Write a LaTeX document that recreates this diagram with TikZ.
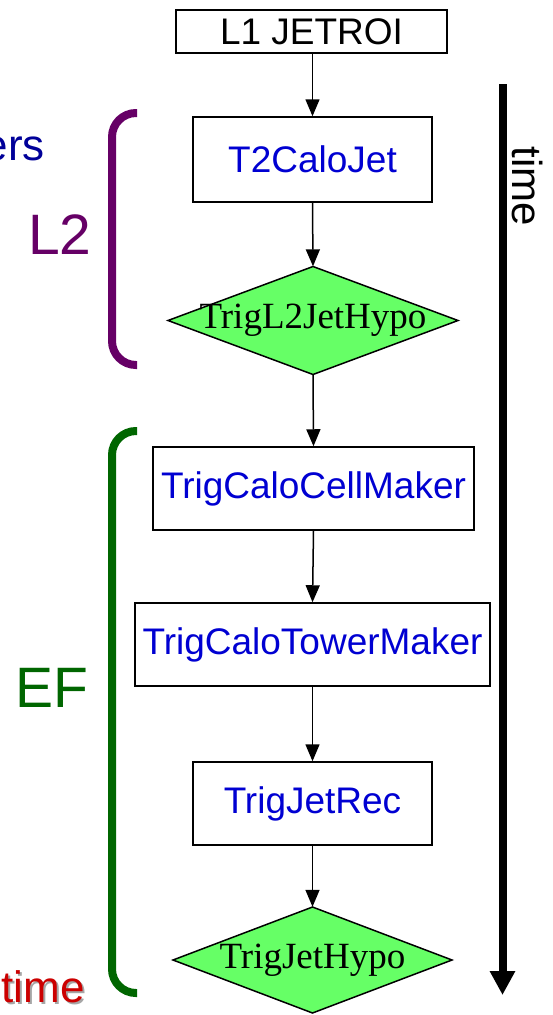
\documentclass[tikz,border=0pt]{standalone}
\usepackage{fontspec}
\setmainfont{Liberation Sans}
\newfontfamily\timesf{Liberation Serif}
\usetikzlibrary{arrows.meta}
\definecolor{algblue}{RGB}{0,0,210}
\definecolor{hypogreen}{RGB}{102,255,102}
\definecolor{ltwo}{RGB}{102,0,102}
\definecolor{efgreen}{RGB}{0,102,0}
\definecolor{darkblue}{RGB}{0,0,153}
\definecolor{redtime}{RGB}{204,0,0}
\tikzset{
  algbox/.style={draw=black, line width=1.5pt, fill=white, inner sep=0pt, font=\fontsize{37}{40}\selectfont, text=algblue},
  hypo/.style={inner sep=0pt, font=\timesf\fontsize{37}{40}\selectfont, text=black},
  flow/.style={line width=1.5pt, -{Triangle[width=14pt,length=17pt]}},
  bracepath/.style={line width=8pt, rounded corners=24pt},
  biglabel/.style={inner sep=0pt, font=\fontsize{57}{60}\selectfont}
}
\begin{document}
\begin{tikzpicture}[x=1pt,y=-1pt]
\useasboundingbox (0,0) rectangle (552,1015);
% nodes
\node[algbox, text=black, minimum width=271pt, minimum height=43pt] (l1) at (311.5,31.5) {L1 JETROI};
\node[algbox, minimum width=239pt, minimum height=85pt] (t2) at (312.5,159.5) {T2CaloJet};
\filldraw[fill=hypogreen, draw=black, line width=1.5pt] (168,320.5) -- (313,266.5) -- (458,320.5) -- (313,374.5) -- cycle;
\node[hypo, minimum width=290pt, minimum height=108pt] (h1) at (313,320.5) {TrigL2JetHypo};
\node[algbox, minimum width=321pt, minimum height=83pt] (cell) at (313.5,488.5) {TrigCaloCellMaker};
\node[algbox, minimum width=355pt, minimum height=83pt] (tower) at (312.5,644.5) {TrigCaloTowerMaker};
\node[algbox, minimum width=239pt, minimum height=83pt] (jetrec) at (312.5,803.5) {TrigJetRec};
\filldraw[fill=hypogreen, draw=black, line width=1.5pt] (173,960) -- (312.5,907) -- (452,960) -- (312.5,1013) -- cycle;
\node[hypo, minimum width=279pt, minimum height=106pt] (h2) at (312.5,960) {TrigJetHypo};
% connectors
\draw[flow] (l1.south -| t2.north) -- (t2.north);
\draw[flow] (t2.south) -- (h1.north);
\draw[flow] (h1.south) -- (cell.north);
\draw[flow] (cell.south) -- (tower.north);
\draw[flow] (tower.south) -- (jetrec.north);
\draw[flow] (jetrec.south) -- (h2.north);
% time arrow
\coordinate (tstart) at (502.5,84);
\coordinate (tend) at (502.5,995);
\draw[line width=8pt, -{Triangle[width=24pt,length=24pt]}] (tstart) -- (tend);
\node[inner sep=0pt, rotate=-90, font=\fontsize{42}{46}\selectfont] (timelbl) at (528,186) {time};
% braces
\draw[ltwo, bracepath] (137,113) -- (112,113) -- (112,365) -- (137,365);
\draw[efgreen, bracepath] (137,431) -- (112,431) -- (112,993) -- (137,993);
\node[biglabel, text=ltwo] (l2lbl) at (60,235) {L2};
\node[biglabel, text=efgreen] (eflbl) at (52,688) {EF};
% left fragments
\node[inner sep=0pt, anchor=base east, text=darkblue, font=\fontsize{44}{48}\selectfont] (ers) at (45,160) {ers};
\node[inner sep=0pt, anchor=base west, text=black!35, font=\fontsize{44}{46}\selectfont] (timeshadow) at (3.5,1004.5) {time};
\node[inner sep=0pt, anchor=base west, text=redtime, font=\fontsize{44}{46}\selectfont] (timered) at (1.5,1002.5) {time};
\end{tikzpicture}
\end{document}
